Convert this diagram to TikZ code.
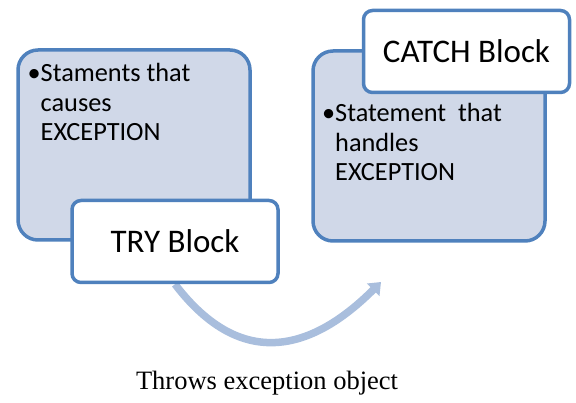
\documentclass[tikz,border=0pt]{standalone}
\usepackage{fontspec}
\setmainfont{Carlito}
\newfontfamily\capfont{Liberation Serif}
\usetikzlibrary{positioning,arrows.meta,backgrounds}

\definecolor{boxline}{HTML}{4F81BD}
\definecolor{boxfill}{HTML}{D0D8E8}
\definecolor{flowblue}{HTML}{A9BEDD}

\tikzset{
  backbox/.style={draw=boxline, fill=boxfill, line width=3.5pt, rounded corners=20pt,
    minimum width=232pt, minimum height=190pt, inner sep=0pt},
  titlebox/.style={draw=boxline, fill=white, line width=3.5pt, rounded corners=9pt,
    minimum width=206pt, minimum height=82pt, inner sep=0pt, font=\fontsize{33}{40}\selectfont},
  bullets/.style={align=left, anchor=north west, inner sep=0pt, font=\fontsize{26.3}{29.3}\selectfont}
}

\begin{document}
\begin{tikzpicture}[x=1pt,y=-1pt]
\useasboundingbox (0,0) rectangle (576,403);

\def\xa{134}
\def\xb{175}
\def\xc{429}
\def\xd{466.5}

\node[backbox] (tryback) at (\xa,145) {};
\node[bullets] (trytext) at (40.5,63.5) {\llap{\textbullet}Staments that\\causes\\EXCEPTION};
\node[titlebox] (trybox) at (\xb,241.5) {TRY Block};

\node[backbox] (catchback) at (\xc,146) {};
\node[bullets] (catchtext) at (335,103.5) {\llap{\textbullet}Statement\ \ that\\handles\\EXCEPTION};
\node[titlebox] (catchbox) at (\xd,51.5) {CATCH Block};

\coordinate (tip) at (381,282);
\begin{scope}[on background layer]
\draw[flowblue, line width=7.5pt, -{Triangle[length=11pt,width=17pt]}]
  (trybox.south) .. controls (242,372) and (313,350) .. (tip);
\end{scope}

\node (caption) at (267,383) {\capfont\fontsize{26.5}{30}\selectfont Throws exception object};

\end{tikzpicture}
\end{document}
